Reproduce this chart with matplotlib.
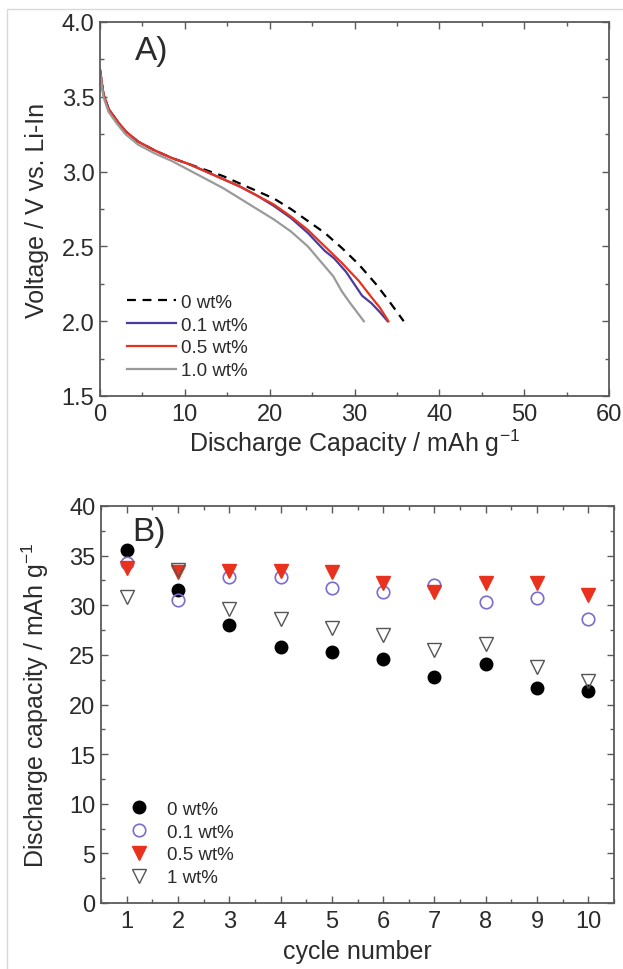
import matplotlib
matplotlib.use('Agg')
import matplotlib.pyplot as plt
from matplotlib.patches import Rectangle
from matplotlib.ticker import MultipleLocator
import numpy as np

plt.rcParams['font.family'] = ['Liberation Sans', 'DejaVu Sans']
plt.rcParams['mathtext.default'] = 'regular'

# ---- panel A: discharge curves (capacity mAh/g, voltage V) ----
cap_0 = [0, 0.4, 1, 2, 3, 4.5, 6.5, 8.5, 10.5, 12.5, 14.5, 16.5, 18.5, 20.5,
         22.5, 24.5, 26.5, 28.5, 30.5, 32.5, 34, 35.8]
v_0 = [3.68, 3.52, 3.42, 3.34, 3.27, 3.20, 3.14, 3.09, 3.05, 3.01, 2.97, 2.92,
       2.87, 2.82, 2.75, 2.67, 2.59, 2.49, 2.38, 2.25, 2.14, 2.00]

cap_01 = [0, 0.4, 1, 2, 3, 4.5, 6.5, 8.5, 10.5, 12.5, 14.5, 16.5, 18.5, 20.5,
          22.5, 24.5, 26.5, 27.6, 29, 30.9, 32, 33, 33.9]
v_01 = [3.68, 3.52, 3.42, 3.34, 3.27, 3.20, 3.14, 3.09, 3.05, 3.00, 2.95, 2.90,
        2.84, 2.77, 2.69, 2.59, 2.47, 2.42, 2.33, 2.17, 2.12, 2.06, 2.00]

cap_05 = [0, 0.4, 1, 2, 3, 4.5, 6.5, 8.5, 10.5, 12.5, 14.5, 16.5, 18.5, 20.5,
          22.5, 24.5, 26.5, 28.5, 30.5, 32, 33, 34]
v_05 = [3.68, 3.52, 3.42, 3.34, 3.27, 3.20, 3.14, 3.09, 3.05, 3.00, 2.95, 2.90,
        2.84, 2.78, 2.70, 2.61, 2.50, 2.39, 2.27, 2.16, 2.09, 2.00]

cap_10 = [0, 0.4, 1, 2, 3, 4.5, 6.5, 8.5, 10.5, 12.5, 14.5, 16.5, 18.5, 20.5,
          22.5, 24.5, 26, 27.5, 28.5, 29.5, 30.3, 31.1]
v_10 = [3.66, 3.50, 3.40, 3.32, 3.25, 3.18, 3.12, 3.07, 3.01, 2.95, 2.89, 2.82,
        2.75, 2.68, 2.60, 2.50, 2.40, 2.30, 2.20, 2.12, 2.06, 2.00]

# ---- panel B: capacity per cycle ----
cycles = np.arange(1, 11)
q_0 = [35.6, 31.5, 28.0, 25.8, 25.3, 24.6, 22.8, 24.1, 21.7, 21.4]
q_01 = [34.3, 30.5, 32.8, 32.8, 31.7, 31.3, 32.0, 30.3, 30.7, 28.6]
q_05 = [33.8, 33.4, 33.5, 33.5, 33.3, 32.2, 31.3, 32.2, 32.2, 31.0]
q_1 = [30.8, 33.6, 29.6, 28.6, 27.7, 27.0, 25.5, 26.1, 23.8, 22.4]

spine_c = '#5a5a5a'
text_c = '#2b2b2b'
tick_fs = 17
label_fs = 18


def style_axes(ax):
    for s in ax.spines.values():
        s.set_color(spine_c)
        s.set_linewidth(1.3)
    ax.tick_params(which='both', direction='in', top=True, right=True,
                   color=spine_c, width=1.0, labelsize=tick_fs, labelcolor=text_c)
    ax.tick_params(which='major', length=5)
    ax.tick_params(which='minor', length=3)
    ax.tick_params(axis='x', pad=5)
    ax.tick_params(axis='y', pad=4)


fig = plt.figure(figsize=(6.23, 9.70), dpi=100)
fig.patches.append(Rectangle((7 / 623, -0.05), 1.1, 1 - 10 / 970 + 0.05,
                             transform=fig.transFigure, fill=False,
                             edgecolor='#d8d8d8', linewidth=1.0))

# panel A
ax1 = fig.add_axes([100 / 623, 1 - 397 / 970, 509 / 623, 374 / 970])
ax1.plot(cap_0, v_0, color='black', linestyle=(0, (4, 3)), linewidth=1.6, label='0 wt%')
ax1.plot(cap_01, v_01, color='#4a3c9e', linewidth=1.6, label='0.1 wt%')
ax1.plot(cap_05, v_05, color='#e8321e', linewidth=1.6, label='0.5 wt%')
ax1.plot(cap_10, v_10, color='#9a9a9a', linewidth=1.6, label='1.0 wt%')
ax1.set_xlim(0, 60)
ax1.set_ylim(1.5, 4.0)
ax1.xaxis.set_major_locator(MultipleLocator(10))
ax1.xaxis.set_minor_locator(MultipleLocator(5))
ax1.yaxis.set_major_locator(MultipleLocator(0.5))
ax1.yaxis.set_minor_locator(MultipleLocator(0.25))
ax1.yaxis.set_major_formatter(matplotlib.ticker.FormatStrFormatter('%.1f'))
style_axes(ax1)
ax1.set_xlabel('Discharge Capacity / mAh g$^{-1}$', fontsize=label_fs, color=text_c, labelpad=1)
ax1.set_ylabel('Voltage / V vs. Li-In', fontsize=label_fs, color=text_c, labelpad=9)
ax1.text(0.068, 0.925, 'A)', transform=ax1.transAxes, fontsize=24, color=text_c,
         va='center', ha='left')
ax1.legend(loc='lower left', bbox_to_anchor=(0.02, 0.0), frameon=False,
           fontsize=13.5, handlelength=2.6, handletextpad=0.3, labelspacing=0.3,
           labelcolor=text_c)

# panel B
ax2 = fig.add_axes([101 / 623, 1 - 904 / 970, 513 / 623, 397 / 970])
ax2.plot(cycles, q_0, linestyle='none', marker='o', markersize=9,
         color='black', label='0 wt%')
ax2.plot(cycles, q_01, linestyle='none', marker='o', markersize=9,
         markerfacecolor='none', markeredgecolor='#7b6cd0', markeredgewidth=1.2,
         label='0.1 wt%')
ax2.plot(cycles, q_05, linestyle='none', marker='v', markersize=10.5,
         color='#e8321e', label='0.5 wt%')
ax2.plot(cycles, q_1, linestyle='none', marker='v', markersize=10.5,
         markerfacecolor='none', markeredgecolor='#555555', markeredgewidth=1.0,
         label='1 wt%')
ax2.set_xlim(0.5, 10.5)
ax2.set_ylim(0, 40)
ax2.xaxis.set_major_locator(MultipleLocator(1))
ax2.xaxis.set_minor_locator(MultipleLocator(0.5))
ax2.yaxis.set_major_locator(MultipleLocator(5))
ax2.yaxis.set_minor_locator(MultipleLocator(2.5))
style_axes(ax2)
ax2.set_xlabel('cycle number', fontsize=label_fs, color=text_c, labelpad=5)
ax2.set_ylabel('Discharge capacity / mAh g$^{-1}$', fontsize=label_fs, color=text_c, labelpad=13)
ax2.text(0.06, 0.935, 'B)', transform=ax2.transAxes, fontsize=24, color=text_c,
         va='center', ha='left')
ax2.legend(loc='lower left', bbox_to_anchor=(0.005, 0.0), frameon=False,
           fontsize=13.5, handletextpad=0.5, labelspacing=0.3, labelcolor=text_c)

fig.savefig('out.png', dpi=100)
